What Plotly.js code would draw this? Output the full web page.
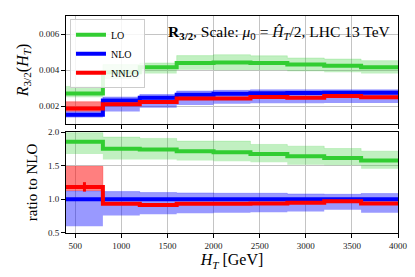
<!DOCTYPE html>
<html>
<head>
<meta charset="utf-8">
<script src="https://cdn.plot.ly/plotly-3.0.1.min.js"></script>
<style>html,body{margin:0;padding:0;background:#fff}#chart{width:415px;height:277px}</style>
</head>
<body>
<div id="chart"></div>
<script>
// Bin edges in H_T [GeV]
const binEdges = [400, 800, 1200, 1600, 2000, 2400, 2800, 3200, 3600, 4000];

// Top panel: R_3/2(H_T)
const loCentral  = [0.00270, 0.00387, 0.00415, 0.00439, 0.00442, 0.00439, 0.00430, 0.00424, 0.00415];
const loLow      = [0.00248, 0.00350, 0.00380, 0.00402, 0.00398, 0.00398, 0.00393, 0.00387, 0.00380];
const loHigh     = [0.00309, 0.00430, 0.00439, 0.00480, 0.00485, 0.00479, 0.00467, 0.00461, 0.00452];

const nloCentral = [0.00152, 0.00231, 0.00246, 0.00262, 0.00268, 0.00271, 0.00272, 0.00273, 0.00274];
const nloLow     = [0.00136, 0.00170, 0.00190, 0.00205, 0.00213, 0.00215, 0.00215, 0.00216, 0.00216];
const nloHigh    = [0.00170, 0.00250, 0.00264, 0.00283, 0.00287, 0.00290, 0.00290, 0.00290, 0.00290];

const nnloCentral = [0.00186, 0.00210, 0.00222, 0.00242, 0.00242, 0.00250, 0.00246, 0.00255, 0.00248];
const nnloLow     = [0.00170, 0.00203, 0.00215, 0.00235, 0.00235, 0.00243, 0.00239, 0.00248, 0.00241];
const nnloHigh    = [0.00224, 0.00217, 0.00229, 0.00249, 0.00249, 0.00257, 0.00253, 0.00262, 0.00255];

// Bottom panel: ratio to NLO
const loRatio     = [1.855, 1.750, 1.740, 1.715, 1.700, 1.675, 1.640, 1.615, 1.575];
const loRatioLow  = [1.675, 1.590, 1.590, 1.575, 1.567, 1.550, 1.515, 1.507, 1.456];
const loRatioHigh = [1.990, 1.925, 1.905, 1.865, 1.865, 1.815, 1.790, 1.755, 1.715];

const nloRatio     = [1.000, 1.000, 1.000, 1.000, 1.000, 1.000, 1.000, 1.000, 1.000];
const nloRatioLow  = [0.600, 0.760, 0.780, 0.795, 0.800, 0.810, 0.820, 0.845, 0.800];
const nloRatioHigh = [1.125, 1.115, 1.100, 1.095, 1.090, 1.090, 1.080, 1.075, 1.085];

const nnloRatio     = [1.185, 0.935, 0.915, 0.935, 0.935, 0.940, 0.950, 0.970, 0.940];
const nnloRatioLow  = [1.125, 0.925, 0.905, 0.925, 0.925, 0.930, 0.940, 0.960, 0.930];
const nnloRatioHigh = [1.490, 0.945, 0.925, 0.945, 0.945, 0.950, 0.960, 0.980, 0.950];
const nnloRatioErr  = [0.070, 0.010, 0.010, 0.010, 0.010, 0.010, 0.010, 0.020, 0.020];

const xTicks = [500, 1000, 1500, 2000, 2500, 3000, 3500, 4000];

const GREEN = 'rgb(50,205,50)', BLUE = 'rgb(0,0,255)', RED = 'rgb(255,0,0)';
const GREEN_F = 'rgba(50,205,50,0.3)', BLUE_F = 'rgba(0,0,255,0.4)', RED_F = 'rgba(255,0,0,0.5)';

function stepY(v) { return v.concat([v[v.length - 1]]); }
function centers(e) { const c = []; for (let i = 0; i < e.length - 1; i++) c.push((e[i] + e[i + 1]) / 2); return c; }

function band(low, high, fill, xa, ya) {
  return [
    {x: binEdges, y: stepY(low), xaxis: xa, yaxis: ya, mode: 'lines', line: {shape: 'hv', width: 0, color: fill}, showlegend: false, hoverinfo: 'skip'},
    {x: binEdges, y: stepY(high), xaxis: xa, yaxis: ya, mode: 'lines', line: {shape: 'hv', width: 0.6, color: fill}, fill: 'tonexty', fillcolor: fill, showlegend: false, hoverinfo: 'skip'}
  ];
}
function line(v, color, name, xa, ya, legend) {
  return {x: binEdges, y: stepY(v), xaxis: xa, yaxis: ya, mode: 'lines', name: name, line: {shape: 'hv', width: 4, color: color}, showlegend: legend};
}

const traces = [].concat(
  band(loLow, loHigh, GREEN_F, 'x', 'y'),
  band(nloLow, nloHigh, BLUE_F, 'x', 'y'),
  band(nnloLow, nnloHigh, RED_F, 'x', 'y'),
  [line(loCentral, GREEN, 'LO', 'x', 'y', true),
   line(nloCentral, BLUE, 'NLO', 'x', 'y', true),
   line(nnloCentral, RED, 'NNLO', 'x', 'y', true)],
  band(loRatioLow, loRatioHigh, GREEN_F, 'x2', 'y2'),
  band(nloRatioLow, nloRatioHigh, BLUE_F, 'x2', 'y2'),
  band(nnloRatioLow, nnloRatioHigh, RED_F, 'x2', 'y2'),
  [line(loRatio, GREEN, 'LO', 'x2', 'y2', false),
   line(nloRatio, BLUE, 'NLO', 'x2', 'y2', false),
   line(nnloRatio, RED, 'NNLO', 'x2', 'y2', false),
   {x: centers(binEdges), y: nnloRatio, xaxis: 'x2', yaxis: 'y2', mode: 'markers', marker: {size: 1, color: RED},
    error_y: {type: 'data', array: nnloRatioErr, visible: true, color: RED, thickness: 3, width: 0}, showlegend: false, hoverinfo: 'skip'}]
);

const FONT = 'Liberation Serif, DejaVu Serif, serif';
const axBase = {
  showline: true, mirror: true, linecolor: '#000', linewidth: 1,
  ticks: 'outside', ticklen: 4, tickwidth: 1, tickcolor: '#000',
  showgrid: true, gridcolor: '#c4c4c4', gridwidth: 1, zeroline: false,
  tickfont: {family: FONT, size: 9, color: '#222'}
};

const layout = {
  width: 415, height: 277,
  margin: {l: 66, r: 17, t: 16, b: 44},
  paper_bgcolor: '#fff', plot_bgcolor: '#fff',
  font: {family: FONT, color: '#000'},
  showlegend: true,
  legend: {x: 0.012, y: 0.985, xanchor: 'left', yanchor: 'top', bgcolor: 'rgba(255,255,255,0.85)',
           bordercolor: '#cccccc', borderwidth: 1, font: {family: FONT, size: 10, color: '#000'},
           itemwidth: 30, tracegroupgap: 0, traceorder: 'normal'},
  xaxis: Object.assign({}, axBase, {domain: [0, 1], range: [400, 4000], tickvals: xTicks, showticklabels: false, anchor: 'y'}),
  yaxis: Object.assign({}, axBase, {domain: [0.5023, 1], range: [0.001, 0.007], tickvals: [0.002, 0.004, 0.006], tickformat: '.3f', anchor: 'x',
    title: {text: '<i>R</i><sub>3/2</sub>(<i>H</i><sub><i>T</i></sub>)', font: {family: FONT, size: 16, color: '#000'}, standoff: 6}}),
  xaxis2: Object.assign({}, axBase, {domain: [0, 1], range: [400, 4000], tickvals: xTicks, anchor: 'y2',
    title: {text: '<i>H</i><sub><i>T</i></sub> [GeV]', font: {family: FONT, size: 16, color: '#000'}, standoff: 4}}),
  yaxis2: Object.assign({}, axBase, {domain: [0, 0.4654], range: [0.5, 2.0], tickvals: [0.5, 1.0, 1.5, 2.0], tickformat: '.1f', anchor: 'x2',
    title: {text: 'ratio to NLO', font: {family: FONT, size: 15, color: '#000'}, standoff: 6}}),
  annotations: [{
    xref: 'paper', yref: 'y domain', x: 0.985, y: 0.85, xanchor: 'right', yanchor: 'middle', showarrow: false,
    text: '<b>R<sub>3/2</sub></b>, Scale: <i>μ</i><sub>0</sub> = <i>Ĥ</i><sub><i>T</i></sub>/2, LHC 13 TeV',
    font: {family: FONT, size: 15.5, color: '#000'}
  }]
};

Plotly.newPlot('chart', traces, layout, {staticPlot: true, displayModeBar: false});
</script>
</body>
</html>
